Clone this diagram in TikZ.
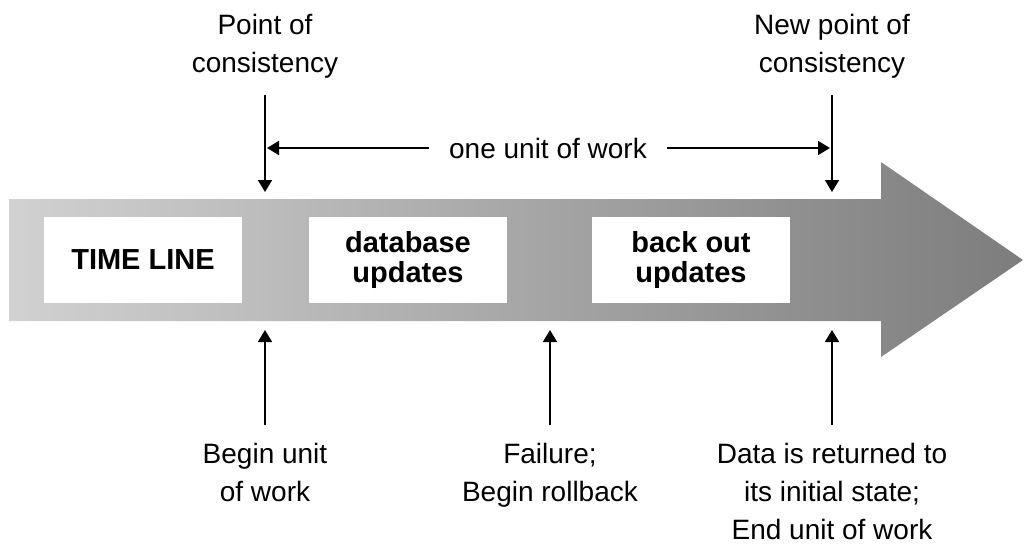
\documentclass[tikz,border=0pt]{standalone}
\usepackage{fontspec}
\setmainfont{Liberation Sans}
\usepackage{tikz}
\usetikzlibrary{arrows.meta}
\usetikzlibrary{positioning}
\definecolor{timelight}{gray}{0.82}
\definecolor{timedark}{gray}{0.49}

\begin{document}
\begin{tikzpicture}[x=1pt, y=-1pt,
    box/.style={fill=white, minimum width=198pt, minimum height=86pt, inner sep=0, align=center, font=\fontsize{29}{30}\selectfont\bfseries},
    lbl/.style={inner sep=0, align=center, font=\fontsize{28}{38}\selectfont},
    pointer/.style={line width=1.6pt, -{Triangle[length=12pt, width=14pt]}}]
            \useasboundingbox (0,0) rectangle (1025,546);
            \shade[left color=timelight, right color=timedark] (9,199) -- (881,199) -- (881,162) -- (1023,260) -- (881,357) -- (881,321) -- (9,321) -- cycle;
            \node[box] (timeline) at (143,260) {TIME LINE};
            \node[box] (dbupd) at (408,260) {database\\updates};
            \node[box] (backout) at (691,260) {back out\\updates};
            \coordinate (t1) at (265,95);
            \coordinate (p1) at (265,192);
            \coordinate (t2) at (832,95);
            \coordinate (p2) at (832,192);
            \coordinate (b1) at (265,425);
            \coordinate (q1) at (265,330);
            \coordinate (b2) at (550,425);
            \coordinate (q2) at (550,330);
            \coordinate (b3) at (832,425);
            \coordinate (q3) at (832,330);
            \coordinate (u1) at (267,148);
            \coordinate (u2) at (830,148);
            \draw[pointer] (t1) -- (p1);
            \draw[pointer] (t2) -- (p2);
            \draw[pointer] (b1) -- (q1);
            \draw[pointer] (b2) -- (q2);
            \draw[pointer] (b3) -- (q3);
            \node[lbl, above=16pt of t1] (oldpoint) {Point of\\consistency};
            \node[lbl, above=16pt of t2] (newpoint) {New point of\\consistency};
            \node[lbl, inner xsep=20pt] (unit) at (548,148) {one unit of work};
            \draw[pointer] (unit) -- (u1);
            \draw[pointer] (unit) -- (u2);
            \node[lbl, below=18pt of b1] (beginunit) {Begin unit\\of work};
            \node[lbl, below=18pt of b2] (failure) {Failure;\\Begin rollback};
            \node[lbl, below=18pt of b3] (returned) {Data is returned to\\its initial state;\\End unit of work};
        \end{tikzpicture}
\end{document}
